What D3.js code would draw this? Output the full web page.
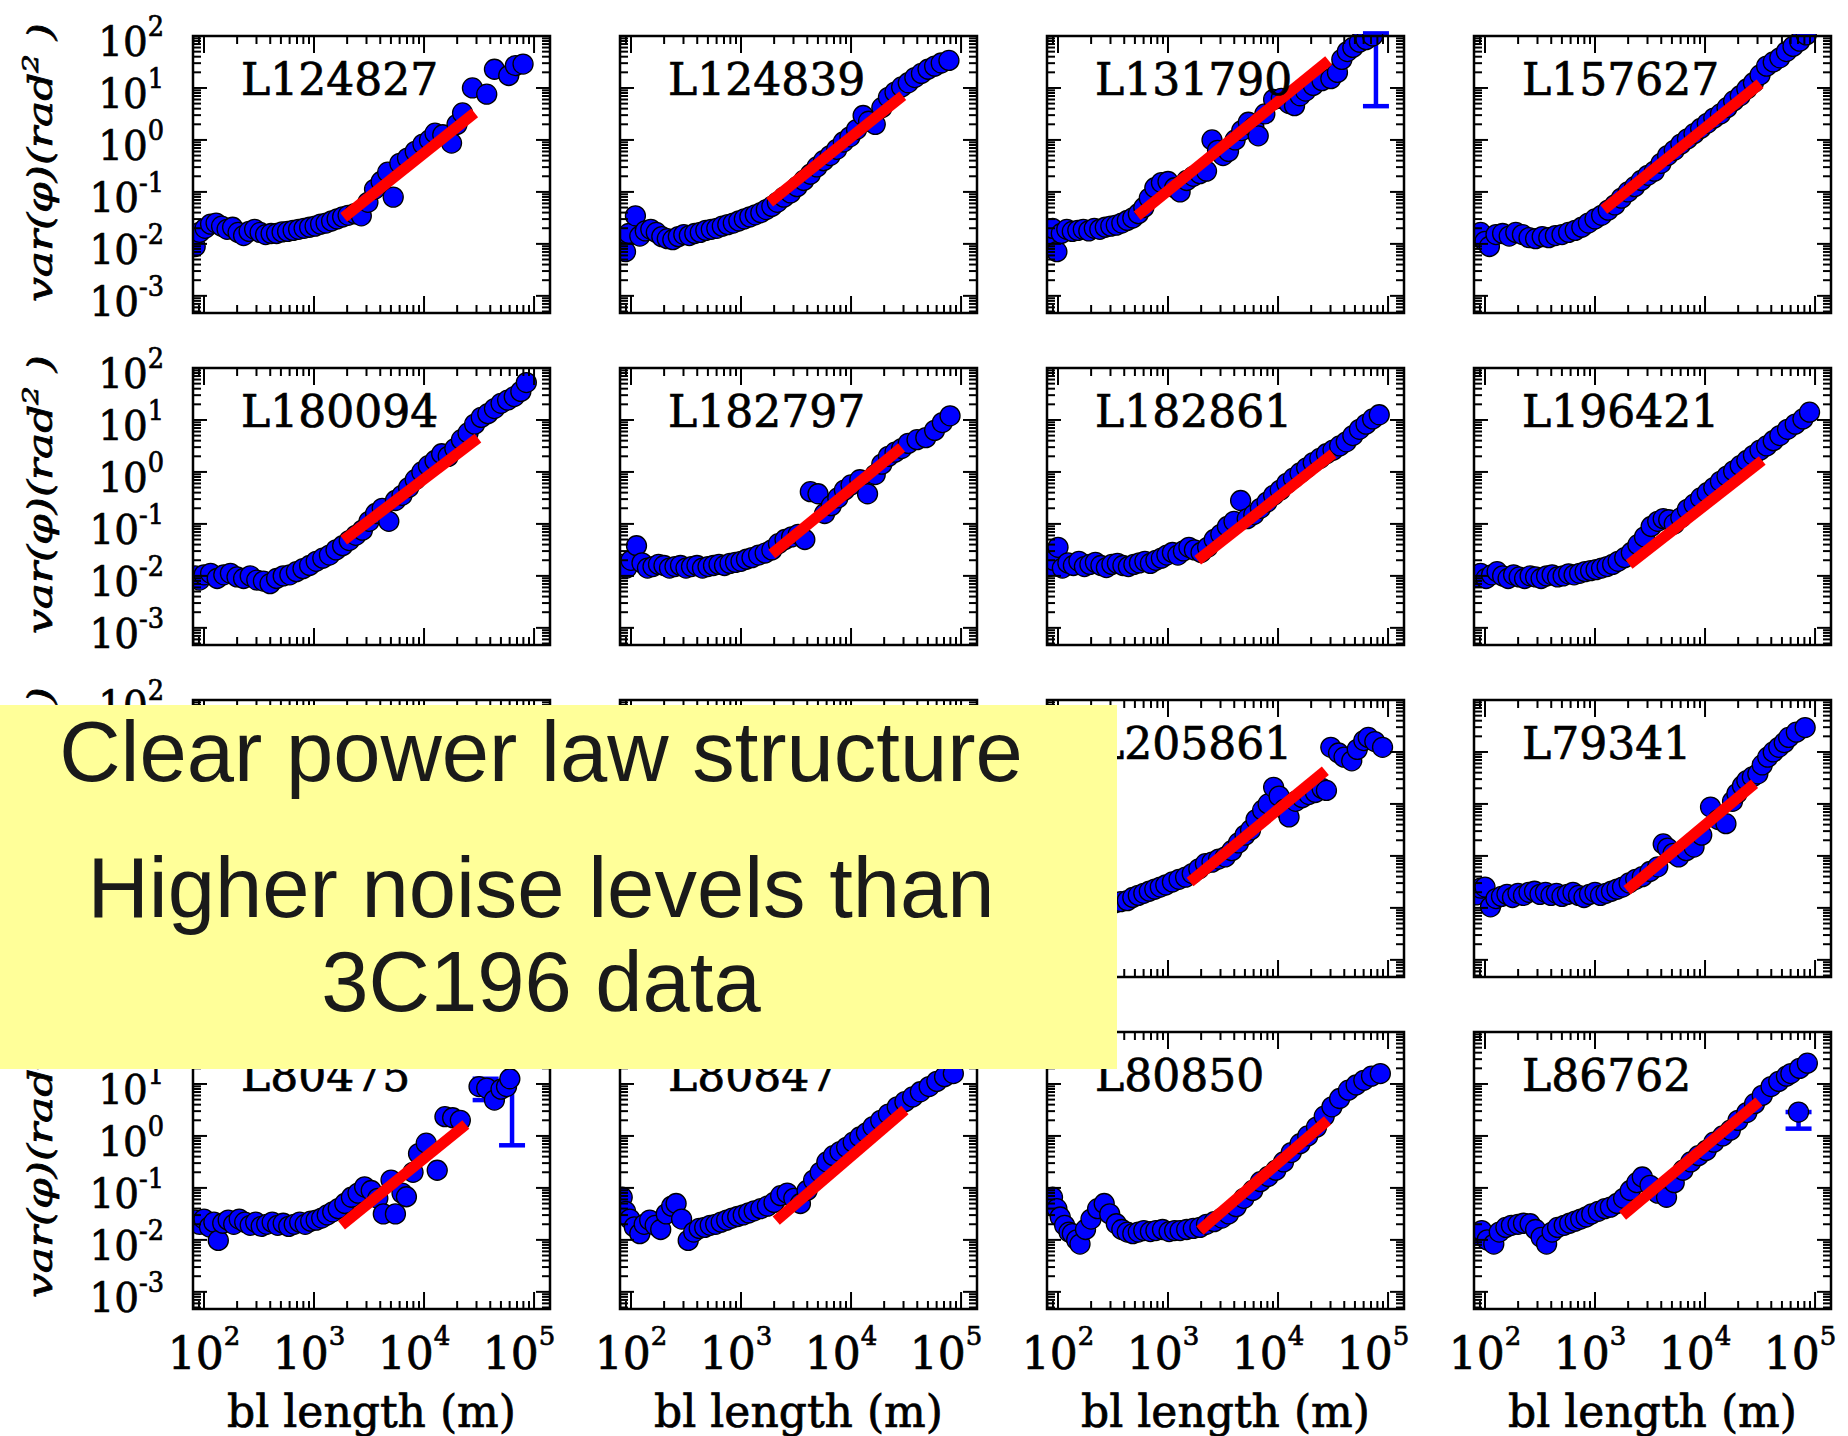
<!DOCTYPE html>
<html><head><meta charset="utf-8">
<script src="https://cdn.jsdelivr.net/npm/d3@7"></script>
<style>body{margin:0;background:#fff}</style>
</head><body>
<svg id="c" width="1848" height="1436" xmlns="http://www.w3.org/2000/svg"></svg>
<script>
// ---------- data (log10 baseline length [m], log10 variance [rad^2]) ----------
const panelNames = ["L124827","L124839","L131790","L157627","L180094","L182797","L182861","L196421","","","L205861","L79341","L80475","L80847","L80850","L86762"];

const dL124827 = [[1.92,-2.05],[1.96,-1.78],[2.01,-1.7],[2.06,-1.62],[2.11,-1.6],[2.16,-1.66],[2.21,-1.72],[2.26,-1.68],[2.31,-1.78],[2.36,-1.84],[2.41,-1.76],[2.46,-1.72],[2.51,-1.78],[2.56,-1.82],[2.61,-1.8],[2.66,-1.8],[2.71,-1.77],[2.76,-1.76],[2.81,-1.74],[2.86,-1.72],[2.91,-1.7],[2.96,-1.68],[3.01,-1.66],[3.06,-1.62],[3.11,-1.6],[3.16,-1.56],[3.21,-1.52],[3.26,-1.48],[3.31,-1.45],[3.37,-1.42],[3.43,-1.46],[3.49,-1.2],[3.55,-0.95],[3.61,-0.8],[3.67,-0.62],[3.72,-1.1],[3.78,-0.45],[3.85,-0.35],[3.92,-0.22],[3.99,-0.08],[4.05,0.0],[4.1,0.13],[4.17,0.1],[4.25,-0.06],[4.3,0.3],[4.35,0.52],[4.44,1.0],[4.57,0.88],[4.64,1.36],[4.77,1.24],[4.83,1.43],[4.9,1.46]];
const dL124839 = [[1.92,-1.95],[1.95,-2.15],[1.98,-1.8],[2.04,-1.46],[2.08,-1.85],[2.13,-1.75],[2.18,-1.72],[2.23,-1.78],[2.28,-1.86],[2.33,-1.9],[2.38,-1.92],[2.43,-1.86],[2.48,-1.82],[2.53,-1.84],[2.58,-1.8],[2.63,-1.78],[2.68,-1.74],[2.73,-1.72],[2.78,-1.7],[2.83,-1.66],[2.88,-1.63],[2.93,-1.6],[2.98,-1.56],[3.03,-1.52],[3.08,-1.48],[3.13,-1.44],[3.18,-1.4],[3.23,-1.34],[3.28,-1.28],[3.33,-1.2],[3.39,-1.1],[3.45,-1.02],[3.51,-0.9],[3.57,-0.78],[3.63,-0.66],[3.69,-0.52],[3.75,-0.4],[3.81,-0.3],[3.87,-0.18],[3.93,-0.04],[3.99,0.06],[4.05,0.2],[4.11,0.47],[4.16,0.36],[4.22,0.3],[4.28,0.62],[4.34,0.82],[4.4,0.92],[4.46,1.02],[4.52,1.1],[4.58,1.2],[4.64,1.28],[4.7,1.36],[4.76,1.42],[4.82,1.48],[4.89,1.53]];
const dL131790 = [[1.92,-1.85],[1.95,-1.7],[1.99,-2.15],[2.03,-1.8],[2.08,-1.72],[2.13,-1.76],[2.18,-1.74],[2.23,-1.72],[2.28,-1.75],[2.33,-1.7],[2.38,-1.72],[2.43,-1.68],[2.48,-1.66],[2.53,-1.64],[2.58,-1.6],[2.63,-1.55],[2.68,-1.5],[2.73,-1.42],[2.78,-1.3],[2.83,-1.12],[2.88,-0.92],[2.94,-0.82],[3.0,-0.8],[3.06,-0.92],[3.11,-1.0],[3.17,-0.78],[3.23,-0.7],[3.29,-0.65],[3.35,-0.6],[3.4,0.0],[3.45,-0.2],[3.5,-0.3],[3.55,-0.22],[3.61,0.0],[3.67,0.18],[3.73,0.34],[3.78,0.25],[3.82,0.08],[3.88,0.5],[3.96,0.78],[4.03,0.8],[4.1,0.7],[4.15,0.66],[4.2,0.85],[4.25,0.94],[4.32,1.05],[4.4,1.14],[4.48,1.18],[4.54,1.3],[4.58,1.55],[4.63,1.7],[4.68,1.78],[4.74,1.88],[4.8,1.93],[4.86,2.0]];
const dL157627 = [[1.92,-1.85],[1.96,-1.78],[2.0,-1.95],[2.04,-2.05],[2.1,-1.82],[2.16,-1.8],[2.22,-1.85],[2.28,-1.78],[2.34,-1.82],[2.4,-1.88],[2.46,-1.9],[2.52,-1.86],[2.58,-1.88],[2.64,-1.84],[2.7,-1.82],[2.76,-1.78],[2.82,-1.74],[2.88,-1.68],[2.94,-1.6],[3.0,-1.52],[3.06,-1.45],[3.12,-1.35],[3.18,-1.25],[3.24,-1.12],[3.3,-1.0],[3.36,-0.9],[3.42,-0.78],[3.48,-0.68],[3.54,-0.6],[3.6,-0.45],[3.66,-0.3],[3.72,-0.2],[3.78,-0.08],[3.84,0.02],[3.9,0.12],[3.96,0.22],[4.02,0.32],[4.08,0.42],[4.14,0.5],[4.2,0.62],[4.26,0.75],[4.32,0.85],[4.38,0.98],[4.44,1.1],[4.5,1.25],[4.56,1.42],[4.62,1.5],[4.68,1.58],[4.74,1.7],[4.8,1.8],[4.86,1.9],[4.92,2.02]];
const dL180094 = [[1.92,-2.0],[1.96,-2.08],[2.0,-1.98],[2.06,-1.95],[2.12,-2.05],[2.18,-1.98],[2.24,-1.95],[2.3,-2.02],[2.36,-2.05],[2.42,-2.0],[2.48,-2.08],[2.54,-2.1],[2.6,-2.15],[2.66,-2.05],[2.72,-2.0],[2.78,-1.98],[2.84,-1.92],[2.9,-1.86],[2.96,-1.8],[3.02,-1.72],[3.08,-1.66],[3.14,-1.6],[3.2,-1.5],[3.26,-1.42],[3.32,-1.32],[3.38,-1.22],[3.44,-1.12],[3.5,-0.95],[3.56,-0.8],[3.62,-0.7],[3.68,-0.95],[3.74,-0.55],[3.8,-0.45],[3.86,-0.3],[3.92,-0.15],[3.98,0.0],[4.04,0.12],[4.1,0.22],[4.16,0.35],[4.22,0.3],[4.28,0.45],[4.34,0.62],[4.4,0.75],[4.46,0.92],[4.52,1.05],[4.58,1.12],[4.64,1.22],[4.7,1.32],[4.76,1.38],[4.82,1.45],[4.88,1.55],[4.93,1.72]];
const dL182797 = [[1.92,-1.78],[1.96,-1.85],[2.0,-1.7],[2.05,-1.42],[2.1,-1.75],[2.15,-1.85],[2.2,-1.82],[2.25,-1.78],[2.3,-1.8],[2.35,-1.85],[2.4,-1.82],[2.45,-1.8],[2.5,-1.85],[2.55,-1.82],[2.6,-1.8],[2.65,-1.85],[2.7,-1.82],[2.75,-1.8],[2.8,-1.78],[2.85,-1.8],[2.9,-1.76],[2.95,-1.74],[3.0,-1.72],[3.05,-1.68],[3.1,-1.65],[3.16,-1.6],[3.22,-1.56],[3.28,-1.5],[3.34,-1.38],[3.4,-1.3],[3.46,-1.25],[3.52,-1.2],[3.58,-1.3],[3.63,-0.38],[3.7,-0.42],[3.76,-0.8],[3.82,-0.65],[3.88,-0.5],[3.94,-0.35],[4.0,-0.25],[4.08,-0.15],[4.15,-0.42],[4.22,-0.05],[4.28,0.15],[4.34,0.3],[4.4,0.38],[4.46,0.45],[4.52,0.55],[4.6,0.62],[4.68,0.66],[4.76,0.8],[4.83,0.95],[4.9,1.08]];
const dL182861 = [[1.92,-1.82],[1.96,-1.7],[2.0,-1.45],[2.04,-1.85],[2.09,-1.75],[2.14,-1.8],[2.19,-1.72],[2.24,-1.82],[2.29,-1.78],[2.34,-1.74],[2.39,-1.8],[2.44,-1.84],[2.49,-1.78],[2.54,-1.76],[2.59,-1.8],[2.64,-1.82],[2.69,-1.78],[2.74,-1.75],[2.79,-1.72],[2.84,-1.76],[2.89,-1.7],[2.94,-1.66],[2.99,-1.6],[3.04,-1.55],[3.09,-1.6],[3.14,-1.52],[3.19,-1.45],[3.24,-1.5],[3.3,-1.55],[3.36,-1.45],[3.42,-1.3],[3.48,-1.2],[3.54,-1.05],[3.6,-0.95],[3.66,-0.55],[3.72,-0.9],[3.78,-0.82],[3.84,-0.7],[3.9,-0.58],[3.96,-0.45],[4.02,-0.35],[4.08,-0.22],[4.14,-0.12],[4.2,-0.02],[4.26,0.08],[4.32,0.18],[4.38,0.26],[4.44,0.35],[4.5,0.42],[4.56,0.5],[4.62,0.58],[4.68,0.7],[4.74,0.82],[4.8,0.92],[4.86,1.02],[4.92,1.1]];
const dL196421 = [[1.92,-2.02],[1.96,-1.95],[2.01,-2.05],[2.06,-1.98],[2.11,-1.92],[2.16,-2.0],[2.21,-2.05],[2.26,-1.98],[2.31,-2.02],[2.36,-2.05],[2.41,-2.0],[2.46,-2.02],[2.51,-2.05],[2.56,-2.0],[2.61,-1.98],[2.66,-2.02],[2.71,-2.0],[2.76,-1.96],[2.81,-1.98],[2.86,-1.95],[2.91,-1.92],[2.96,-1.9],[3.01,-1.88],[3.06,-1.85],[3.11,-1.82],[3.16,-1.78],[3.21,-1.72],[3.27,-1.65],[3.33,-1.55],[3.39,-1.4],[3.45,-1.25],[3.51,-1.05],[3.57,-0.95],[3.62,-0.9],[3.67,-0.92],[3.72,-1.0],[3.78,-0.88],[3.84,-0.72],[3.9,-0.62],[3.96,-0.5],[4.02,-0.4],[4.08,-0.3],[4.14,-0.18],[4.2,-0.08],[4.26,0.02],[4.32,0.12],[4.38,0.22],[4.44,0.32],[4.5,0.42],[4.56,0.5],[4.62,0.6],[4.68,0.7],[4.75,0.82],[4.82,0.92],[4.89,1.02],[4.95,1.15]];
const dHiddenA = [];
const dHiddenB = [];
const dL205861 = [[1.92,-1.95],[1.97,-2.0],[2.02,-1.92],[2.07,-1.96],[2.12,-1.98],[2.17,-1.94],[2.22,-1.96],[2.27,-1.92],[2.32,-1.95],[2.37,-1.92],[2.42,-1.9],[2.47,-1.92],[2.52,-1.9],[2.57,-1.88],[2.63,-1.86],[2.68,-1.8],[2.73,-1.76],[2.78,-1.72],[2.83,-1.68],[2.88,-1.64],[2.93,-1.6],[2.98,-1.56],[3.04,-1.5],[3.1,-1.45],[3.16,-1.41],[3.22,-1.34],[3.28,-1.25],[3.34,-1.15],[3.4,-1.12],[3.46,-1.06],[3.52,-1.02],[3.58,-0.9],[3.64,-0.75],[3.7,-0.6],[3.75,-0.5],[3.8,-0.3],[3.86,-0.12],[3.91,0.0],[3.96,0.32],[4.01,0.15],[4.06,-0.1],[4.1,-0.25],[4.16,0.05],[4.22,0.12],[4.28,0.18],[4.34,0.22],[4.4,0.3],[4.44,0.26],[4.48,1.09],[4.55,0.98],[4.6,0.9],[4.67,0.83],[4.72,1.05],[4.78,1.22],[4.82,1.28],[4.88,1.2],[4.95,1.09]];
const dL79341 = [[1.92,-1.75],[1.96,-1.62],[2.0,-1.6],[2.05,-1.98],[2.1,-1.82],[2.15,-1.78],[2.2,-1.74],[2.25,-1.8],[2.3,-1.72],[2.35,-1.76],[2.4,-1.7],[2.45,-1.68],[2.5,-1.74],[2.55,-1.7],[2.6,-1.76],[2.65,-1.72],[2.7,-1.78],[2.75,-1.74],[2.8,-1.7],[2.85,-1.76],[2.9,-1.8],[2.95,-1.74],[3.0,-1.7],[3.05,-1.76],[3.1,-1.72],[3.15,-1.68],[3.2,-1.64],[3.25,-1.6],[3.31,-1.52],[3.37,-1.45],[3.43,-1.4],[3.5,-1.3],[3.57,-1.21],[3.62,-0.77],[3.66,-0.85],[3.71,-0.95],[3.76,-1.02],[3.83,-0.9],[3.9,-0.83],[3.97,-0.6],[4.05,-0.06],[4.12,-0.3],[4.19,-0.38],[4.25,0.05],[4.29,0.2],[4.34,0.35],[4.38,0.45],[4.43,0.52],[4.48,0.58],[4.52,0.75],[4.57,0.9],[4.62,1.0],[4.67,1.09],[4.72,1.18],[4.76,1.28],[4.83,1.38],[4.91,1.47]];
const dL80475 = [[1.92,-1.62],[1.96,-1.7],[2.0,-1.6],[2.05,-1.75],[2.09,-1.66],[2.13,-2.01],[2.17,-1.68],[2.22,-1.62],[2.27,-1.7],[2.32,-1.6],[2.37,-1.66],[2.42,-1.72],[2.47,-1.66],[2.52,-1.74],[2.57,-1.7],[2.62,-1.66],[2.67,-1.72],[2.72,-1.68],[2.77,-1.74],[2.82,-1.7],[2.87,-1.66],[2.92,-1.7],[2.97,-1.64],[3.02,-1.62],[3.07,-1.58],[3.12,-1.52],[3.17,-1.46],[3.22,-1.4],[3.28,-1.3],[3.34,-1.18],[3.4,-1.1],[3.46,-0.98],[3.52,-1.05],[3.58,-1.2],[3.63,-1.5],[3.7,-0.85],[3.74,-1.5],[3.8,-1.1],[3.84,-1.17],[3.9,-0.7],[3.95,-0.34],[4.02,-0.14],[4.12,-0.66],[4.19,0.37],[4.26,0.35],[4.33,0.3],[4.5,0.95],[4.57,0.92],[4.64,0.69],[4.7,0.9],[4.75,0.95],[4.78,1.1]];
const dL80847 = [[1.92,-1.18],[1.95,-1.45],[1.99,-1.6],[2.03,-1.75],[2.08,-1.88],[2.12,-1.7],[2.17,-1.62],[2.22,-1.72],[2.27,-1.8],[2.32,-1.5],[2.37,-1.35],[2.41,-1.3],[2.46,-1.6],[2.52,-2.01],[2.57,-1.85],[2.62,-1.78],[2.67,-1.76],[2.72,-1.72],[2.77,-1.7],[2.82,-1.66],[2.87,-1.62],[2.92,-1.58],[2.97,-1.55],[3.02,-1.52],[3.07,-1.48],[3.12,-1.44],[3.18,-1.4],[3.24,-1.35],[3.3,-1.28],[3.36,-1.15],[3.42,-1.1],[3.48,-1.2],[3.54,-1.3],[3.6,-1.05],[3.66,-0.85],[3.72,-0.7],[3.78,-0.5],[3.84,-0.38],[3.9,-0.3],[3.96,-0.22],[4.02,-0.12],[4.08,-0.02],[4.14,0.06],[4.2,0.18],[4.27,0.3],[4.34,0.42],[4.42,0.56],[4.49,0.66],[4.56,0.75],[4.63,0.85],[4.71,0.95],[4.78,1.05],[4.85,1.14],[4.93,1.2]];
const dL80850 = [[1.92,-1.3],[1.95,-1.18],[1.99,-1.4],[2.02,-1.56],[2.06,-1.72],[2.1,-1.85],[2.13,-1.88],[2.17,-2.0],[2.2,-2.08],[2.25,-1.8],[2.3,-1.6],[2.36,-1.4],[2.42,-1.3],[2.47,-1.5],[2.53,-1.69],[2.58,-1.8],[2.63,-1.85],[2.68,-1.88],[2.73,-1.85],[2.78,-1.82],[2.84,-1.84],[2.89,-1.82],[2.95,-1.8],[3.01,-1.84],[3.06,-1.82],[3.11,-1.82],[3.17,-1.8],[3.23,-1.78],[3.29,-1.76],[3.35,-1.7],[3.42,-1.65],[3.49,-1.58],[3.55,-1.5],[3.62,-1.36],[3.69,-1.2],[3.77,-1.05],[3.84,-0.88],[3.91,-0.78],[3.98,-0.66],[4.05,-0.5],[4.12,-0.32],[4.2,-0.15],[4.27,0.0],[4.35,0.17],[4.42,0.38],[4.49,0.56],[4.56,0.72],[4.64,0.88],[4.71,0.98],[4.78,1.07],[4.85,1.15],[4.93,1.2]];
const dL86762 = [[1.92,-1.9],[1.97,-1.82],[2.02,-2.0],[2.08,-2.08],[2.13,-1.85],[2.19,-1.76],[2.24,-1.72],[2.3,-1.7],[2.35,-1.68],[2.41,-1.69],[2.46,-1.8],[2.51,-1.95],[2.56,-2.08],[2.61,-1.85],[2.66,-1.76],[2.72,-1.72],[2.77,-1.68],[2.82,-1.64],[2.87,-1.6],[2.92,-1.56],[2.97,-1.5],[3.03,-1.45],[3.09,-1.4],[3.14,-1.37],[3.2,-1.3],[3.26,-1.2],[3.32,-1.05],[3.38,-0.9],[3.43,-0.79],[3.5,-0.95],[3.57,-1.1],[3.65,-1.18],[3.72,-0.9],[3.8,-0.66],[3.87,-0.5],[3.94,-0.38],[4.01,-0.28],[4.08,-0.12],[4.16,0.0],[4.23,0.11],[4.3,0.3],[4.38,0.45],[4.45,0.62],[4.52,0.78],[4.6,0.95],[4.67,1.05],[4.74,1.15],[4.78,1.2],[4.86,1.3],[4.93,1.4],[4.85,0.46]];

const panelData = [dL124827,dL124839,dL131790,dL157627,dL180094,dL182797,dL182861,dL196421,dHiddenA,dHiddenB,dL205861,dL79341,dL80475,dL80847,dL80850,dL86762];

// power-law fits: [log bl start, log var start, log bl end, log var end]
const fitLines = [[3.27,-1.49,4.46,0.52],[3.26,-1.2,4.47,0.85],[2.72,-1.46,4.46,1.53],[3.08,-1.34,4.5,1.08],
  [3.27,-1.31,4.49,0.65],[3.28,-1.58,4.46,0.47],[3.27,-1.7,4.5,0.35],[3.31,-1.78,4.52,0.22],
  null,null,[3.2,-1.5,4.43,0.64],[3.29,-1.66,4.45,0.39],
  [3.25,-1.72,4.38,0.22],[3.32,-1.63,4.49,0.5],[3.29,-1.82,4.45,0.3],[3.25,-1.53,4.49,0.66]];

// error bars: panel index, log bl, log low, log high
const errorBars = [[2,4.89,0.65,2.05],[12,4.8,-0.18,1.6],[12,4.56,0.69,1.1],[15,4.85,0.14,0.46]];

const xTickExps = [2,3,4,5];
const yTickExps = [2,1,0,-1,-2,-3];
const noteLines = ["Clear power law structure","Higher noise levels than","3C196 data"];

// ---------- drawing ----------
const W = 357, H = 277;
const svg = d3.select("#c");
svg.append("rect").attr("width",1848).attr("height",1436).attr("fill","#fff");
const x = d3.scaleLog().domain([Math.pow(10,1.9), Math.pow(10,5.145)]).range([0, W]);
const y = d3.scaleLog().domain([Math.pow(10,-3.33), 100]).range([H, 0]);
const xt = x.ticks(), yt = y.ticks();
const isMajor = v => Math.abs(Math.log10(v) - Math.round(Math.log10(v))) < 1e-9;
const serif = "'DejaVu Serif', serif";
const heavy = sel => sel.attr("stroke","#000").attr("stroke-width",0.7);

svg.append("defs").append("clipPath").attr("id","plotclip")
  .append("rect").attr("x",0).attr("y",-2).attr("width",W).attr("height",H+2);

panelData.forEach((data, i) => {
  const r = Math.floor(i/4), c = i%4;
  const g = svg.append("g").attr("transform", `translate(${193+427*c},${36+332*r})`);
  errorBars.filter(e => e[0] === i).forEach(e => {
    const ex = x(Math.pow(10,e[1])), ylo = y(Math.pow(10,e[2])), yhi = Math.max(y(Math.pow(10,e[3])), -4);
    const eg = g.append("g").attr("stroke","#0000ff").attr("stroke-width",4.5);
    eg.append("line").attr("x1",ex).attr("x2",ex).attr("y1",ylo).attr("y2",yhi);
    eg.append("line").attr("x1",ex-13).attr("x2",ex+13).attr("y1",ylo).attr("y2",ylo);
    eg.append("line").attr("x1",ex-13).attr("x2",ex+13).attr("y1",yhi).attr("y2",yhi);
  });
  const pg = g.append("g").attr("clip-path","url(#plotclip)");
  pg.selectAll("circle").data(data).enter().append("circle")
    .attr("cx", d => x(Math.pow(10,d[0]))).attr("cy", d => y(Math.pow(10,d[1])))
    .attr("r", 10).attr("fill","#0000ff").attr("stroke","#000").attr("stroke-width",1.3);
  const f = fitLines[i];
  if (f) {
    pg.append("line")
      .attr("x1", x(Math.pow(10,f[0]))).attr("y1", y(Math.pow(10,f[1])))
      .attr("x2", x(Math.pow(10,f[2]))).attr("y2", y(Math.pow(10,f[3])))
      .attr("stroke","#ff0000").attr("stroke-width",11);
  }
  // ticks on all four sides
  const tk = g.append("g").attr("stroke","#000").attr("stroke-width",2);
  xt.forEach(v => {
    const px = x(v), L = isMajor(v) ? 17 : 8;
    tk.append("line").attr("x1",px).attr("x2",px).attr("y1",H).attr("y2",H-L);
    tk.append("line").attr("x1",px).attr("x2",px).attr("y1",0).attr("y2",L);
  });
  yt.forEach(v => {
    const py = y(v), L = isMajor(v) ? 14 : 8;
    tk.append("line").attr("x1",0).attr("x2",L).attr("y1",py).attr("y2",py);
    tk.append("line").attr("x1",W).attr("x2",W-L).attr("y1",py).attr("y2",py);
  });
  g.append("rect").attr("width",W).attr("height",H).attr("fill","none").attr("stroke","#000").attr("stroke-width",2.5);
  if (panelNames[i]) {
    heavy(g.append("text").attr("x",48).attr("y",59).attr("font-family",serif).attr("font-size",44)
      .attr("fill","#000").text(panelNames[i]));
  }
  if (c === 0) {
    yTickExps.forEach(e => {
      const t = g.append("text")
        .attr("transform", `translate(-29,${y(Math.pow(10,e))+20}) scale(0.95,1)`)
        .attr("text-anchor","end").attr("font-family",serif).attr("font-size",41).attr("fill","#000");
      heavy(t);
      t.append("tspan").text("10");
      t.append("tspan").attr("font-size",27).attr("dy",-20).text(String(e));
    });
    const yl = g.append("text")
      .attr("transform", `translate(-141,${H/2-12}) rotate(-90)`)
      .attr("text-anchor","middle").attr("font-family",serif).attr("font-style","italic")
      .attr("font-size",33).attr("fill","#000")
      .attr("textLength",279).attr("lengthAdjust","spacingAndGlyphs");
    heavy(yl);
    yl.append("tspan").text("var(φ)(rad");
    yl.append("tspan").attr("font-size",22).attr("dy",-14).text("2");
    yl.append("tspan").attr("dy",14).text(" )");
  }
  if (r === 3) {
    xTickExps.forEach(e => {
      const t = g.append("text").attr("x", x(Math.pow(10,e)) - 5*(e-2)).attr("y", H+60)
        .attr("text-anchor","middle").attr("font-family",serif).attr("font-size",44).attr("fill","#000");
      heavy(t);
      t.append("tspan").text("10");
      t.append("tspan").attr("font-size",26).attr("dy",-24).text(String(e));
    });
    heavy(g.append("text").attr("x", W/2).attr("y", H+118).attr("text-anchor","middle")
      .attr("font-family",serif).attr("font-size",44).attr("fill","#000").text("bl length (m)"));
  }
});

// ---------- annotation box ----------
svg.append("rect").attr("x",0).attr("y",705).attr("width",1117).attr("height",364).attr("fill","#ffff99");
const noteY = [781, 917, 1011];
noteLines.forEach((s, k) => {
  svg.append("text").attr("x",541).attr("y",noteY[k]).attr("text-anchor","middle")
    .attr("font-family","'Liberation Sans', Arial, sans-serif").attr("font-size",85)
    .attr("fill","#1a1a1a").text(s);
});
</script>
</body></html>
